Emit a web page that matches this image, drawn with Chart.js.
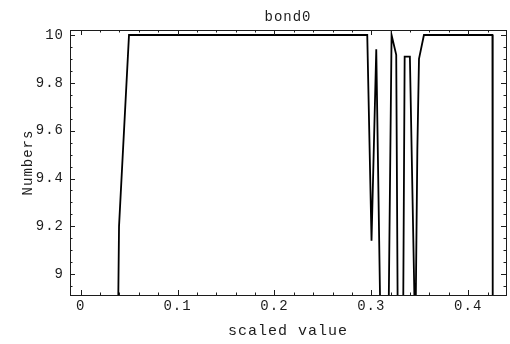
<!DOCTYPE html>
<html>
<head>
<meta charset="utf-8">
<script src="https://cdn.jsdelivr.net/npm/chart.js@4.4.1/dist/chart.umd.min.js"></script>
<style>
  html, body { margin: 0; padding: 0; background: #fff; }
  #wrap { width: 510px; height: 344px; position: relative; }
</style>
</head>
<body>
<div id="wrap"><canvas id="c"></canvas></div>
<script>
// bond0 trace
var X_VALS = [0.0387, 0.0396, 0.0499, 0.2958, 0.3002, 0.3051, 0.3092, 0.3179, 0.3209,
              0.3257, 0.3272, 0.3329, 0.3344, 0.3398, 0.3454, 0.3475, 0.3492, 0.3543,
              0.4250, 0.4253];
var Y_VALS = [8.85, 9.2, 10.0, 10.0, 9.14, 9.94, 8.85, 8.85, 10.0,
              9.917, 8.85, 8.85, 9.91, 9.91, 8.7, 9.52, 9.90, 10.0,
              10.0, 8.85];
var X_TICKS = [0, 0.1, 0.2, 0.3, 0.4];
var Y_TICKS = [9, 9.2, 9.4, 9.6, 9.8, 10];
var X_MINOR = 0.02;
var Y_MINOR = 0.05;

var MONO = '"Liberation Mono", "DejaVu Sans Mono", monospace';
var INK = '#1c1c1c';

var points = X_VALS.map(function (x, i) { return { x: x, y: Y_VALS[i] }; });

function fmt(v) { return String(Number(v.toFixed(2))); }

// Courier-ish wide spacing of the original labels
var spacing = {
    id: 'spacing',
    beforeUpdate: function (c) { c.ctx.letterSpacing = '1px'; },
    beforeDraw: function (c) { c.ctx.letterSpacing = '1px'; }
};

// Mathematica style frame with inward ticks on all four sides
var frame = {
    id: 'frame',
    afterDatasetsDraw: function (c) {
        var a = c.chartArea, ctx = c.ctx;
        var xs = c.scales.x, ys = c.scales.y;
        ctx.save();
        ctx.strokeStyle = INK;
        ctx.lineWidth = 1;
        ctx.strokeRect(Math.round(a.left) + 0.5, Math.round(a.top) + 0.5,
                       Math.round(a.right - a.left), Math.round(a.bottom - a.top));
        ctx.beginPath();
        var v, p, len, k;
        for (k = Math.ceil(xs.min / X_MINOR); k * X_MINOR <= xs.max; k++) {
            v = k * X_MINOR;
            p = Math.round(xs.getPixelForValue(v)) + 0.5;
            len = X_TICKS.some(function (t) { return Math.abs(t - v) < 1e-6; }) ? 5 : 2.5;
            ctx.moveTo(p, a.bottom); ctx.lineTo(p, a.bottom - len);
            ctx.moveTo(p, a.top); ctx.lineTo(p, a.top + len);
        }
        for (k = Math.ceil(ys.min / Y_MINOR); k * Y_MINOR <= ys.max; k++) {
            v = k * Y_MINOR;
            p = Math.round(ys.getPixelForValue(v)) + 0.5;
            len = Y_TICKS.some(function (t) { return Math.abs(t - v) < 1e-6; }) ? 5 : 2.5;
            ctx.moveTo(a.left, p); ctx.lineTo(a.left + len, p);
            ctx.moveTo(a.right, p); ctx.lineTo(a.right - len, p);
        }
        ctx.stroke();
        ctx.restore();
    }
};

new Chart(document.getElementById('c').getContext('2d'), {
    type: 'line',
    data: {
        datasets: [{
            data: points,
            borderColor: '#000',
            borderWidth: 1.8,
            pointRadius: 0,
            tension: 0,
            fill: false
        }]
    },
    options: {
        responsive: true,
        maintainAspectRatio: false,
        animation: false,
        events: [],
        layout: { padding: { right: 4 } },
        plugins: {
            legend: { display: false },
            tooltip: { enabled: false },
            title: {
                display: true,
                fullSize: false,
                text: 'bond0',
                color: INK,
                font: { family: MONO, size: 14, weight: 'normal', lineHeight: 1.2 },
                padding: { top: 9, bottom: 4.2 }
            }
        },
        scales: {
            x: {
                type: 'linear',
                min: -0.011,
                max: 0.439,
                grid: { display: false, drawTicks: false },
                border: { display: false },
                afterBuildTicks: function (s) { s.ticks = X_TICKS.map(function (v) { return { value: v }; }); },
                afterFit: function (s) { s.height = 49; },
                ticks: {
                    color: INK, padding: 3, maxRotation: 0,
                    font: { family: MONO, size: 14 },
                    callback: function (v) { return fmt(v); }
                },
                title: {
                    display: true, text: 'scaled value', color: INK,
                    font: { family: MONO, size: 15, lineHeight: 1.2 },
                    padding: { top: 0, bottom: 3.5 }
                }
            },
            y: {
                min: 8.913,
                max: 10.021,
                grid: { display: false, drawTicks: false },
                border: { display: false },
                afterBuildTicks: function (s) { s.ticks = Y_TICKS.map(function (v) { return { value: v }; }); },
                afterFit: function (s) { s.width = 70; },
                ticks: {
                    color: INK, padding: 6,
                    font: { family: MONO, size: 14 },
                    callback: function (v) { return fmt(v); }
                },
                title: {
                    display: true, text: 'Numbers', color: INK,
                    font: { family: MONO, size: 14, lineHeight: 1.2 },
                    padding: { top: 19.6, bottom: 0 }
                }
            }
        }
    },
    plugins: [spacing, frame]
});
</script>
</body>
</html>
